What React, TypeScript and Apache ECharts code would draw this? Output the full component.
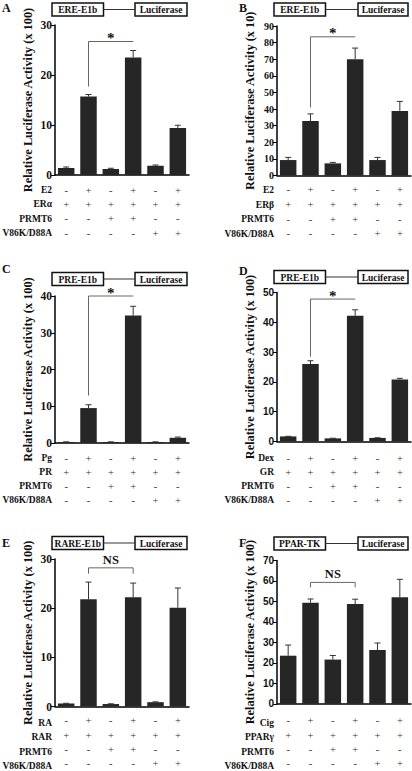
import React, { useEffect, useRef } from "react";
import * as echarts from "echarts";

// ---------- data ----------
const categories = ["1", "2", "3", "4", "5", "6"];

const ligandSigns = ["-", "+", "-", "+", "-", "+"];
const receptorSigns = ["+", "+", "+", "+", "+", "+"];
const prmt6Signs = ["-", "-", "+", "+", "-", "-"];
const mutantSigns = ["-", "-", "-", "-", "+", "+"];

const valuesA = [1.4, 15.7, 1.2, 23.5, 1.85, 9.4];
const errTopA = [1.6, 16.1, 1.35, 24.9, 2.0, 9.95];
const valuesB = [9.3, 32.8, 7.3, 70, 9.3, 38.9];
const errTopB = [10.9, 37.1, 7.9, 76.7, 10.9, 44.6];
const valuesC = [0.28, 9.5, 0.28, 34.7, 0.28, 1.42];
const errTopC = [0.32, 10.4, 0.32, 37.2, 0.32, 1.62];
const valuesD = [1.7, 26.0, 1.05, 42.2, 1.2, 20.8];
const errTopD = [1.75, 27.1, 1.1, 44.2, 1.25, 21.2];
const valuesE = [0.6, 21.8, 0.5, 22.2, 0.88, 20.1];
const errTopE = [0.65, 25.3, 0.55, 25.1, 0.95, 24.1];
const valuesF = [23.5, 49.4, 21.6, 48.7, 26.3, 52.0];
const errTopF = [28.7, 51.2, 23.6, 51.1, 29.7, 60.8];

const yMaxA = 30, yMaxB = 90, yMaxC = 40, yMaxD = 50, yMaxE = 30, yMaxF = 70;

// brackets: [fromIndex, toIndex, leftBottom, top, rightBottom]
const bracketA = [1, 3, 17.7, 26.7, 26.7];
const bracketB = [1, 3, 41, 83.5, 83.5];
const bracketC = [1, 3, 12.9, 40, 40];
const bracketD = [1, 3, 28.5, 47.8, 47.8];
const bracketE = [1, 3, 27.0, 28.2, 27.0];
const bracketF = [1, 3, 56.9, 59.3, 56.9];

const rowLabelsA = ["E2", "ERα", "PRMT6", "V86K/D88A"];
const rowLabelsB = ["E2", "ERβ", "PRMT6", "V86K/D88A"];
const rowLabelsC = ["Pg", "PR", "PRMT6", "V86K/D88A"];
const rowLabelsD = ["Dex", "GR", "PRMT6", "V86K/D88A"];
const rowLabelsE = ["RA", "RAR", "PRMT6", "V86K/D88A"];
const rowLabelsF = ["Cig", "PPARγ", "PRMT6", "V86K/D88A"];

const promoters = ["ERE-E1b", "ERE-E1b", "PRE-E1b", "PRE-E1b", "RARE-E1b", "PPAR-TK"];
const panelLetters = ["A", "B", "C", "D", "E", "F"];
const yTitles = [
  "Relative Luciferase Activity (x 100)",
  "Relative Luciferase Activity (x 10)",
  "Relative Luciferase Activity (x 100)",
  "Relative Luciferase Activity (x 100)",
  "Relative Luciferase Activity (x 100)",
  "Relative Luciferase Activity (x 100)",
];
const bracketLabels = ["*", "*", "*", "*", "NS", "NS"];

// ---------- layout ----------
const SERIF = "'Liberation Serif', 'Times New Roman', serif";
const SANS = "'Liberation Sans', Arial, sans-serif";

const layout = [
  { left: 55, top: 25, height: 150, rowY: 190, lh: 14.3, margin: 8, tickFont: SERIF, tickSize: 11.5, boxY: 3, letterY: 7.5 },
  { left: 277, top: 26, height: 149.5, rowY: 190, lh: 14.6, margin: 7.2, tickFont: SERIF, tickSize: 10, boxY: 3, letterY: 7.5 },
  { left: 55, top: 296, height: 147, rowY: 458, lh: 14, margin: 8, tickFont: SERIF, tickSize: 11.5, boxY: 272.5, letterY: 268.5 },
  { left: 277, top: 292.5, height: 149, rowY: 458, lh: 14, margin: 9.5, tickFont: SANS, tickSize: 10, boxY: 270.5, letterY: 270.5 },
  { left: 55, top: 559, height: 149.5, rowY: 723, lh: 14.3, margin: 7.3, tickFont: SERIF, tickSize: 11.5, boxY: 536.5, letterY: 542.5 },
  { left: 277, top: 560.5, height: 145, rowY: 723, lh: 14.3, margin: 10, tickFont: SANS, tickSize: 10, boxY: 537, letterY: 542.5 },
];

const panelValues = [valuesA, valuesB, valuesC, valuesD, valuesE, valuesF];
const panelErr = [errTopA, errTopB, errTopC, errTopD, errTopE, errTopF];
const panelMax = [yMaxA, yMaxB, yMaxC, yMaxD, yMaxE, yMaxF];
const panelBrackets = [bracketA, bracketB, bracketC, bracketD, bracketE, bracketF];
const panelRows = [rowLabelsA, rowLabelsB, rowLabelsC, rowLabelsD, rowLabelsE, rowLabelsF];

const BAR = "#262626";

function buildOption() {
  const grid: any[] = [];
  const xAxis: any[] = [];
  const yAxis: any[] = [];
  const series: any[] = [];
  const graphic: any[] = [];

  layout.forEach((L, p) => {
    const isLeft = L.left < 200;
    grid.push({ left: L.left, top: L.top, width: 134, height: L.height });
    xAxis.push({
      type: "category",
      gridIndex: p,
      data: categories,
      axisLine: { show: true, lineStyle: { color: "#000", width: 1.5 } },
      axisTick: { show: false },
      axisLabel: {
        margin: L.margin,
        interval: 0,
        fontFamily: SERIF,
        fontSize: 10.5,
        color: "#333",
        lineHeight: L.lh,
        formatter: (_v: string, i: number) =>
          [ligandSigns[i], receptorSigns[i], prmt6Signs[i], mutantSigns[i]].join("\n"),
      },
    });
    yAxis.push({
      type: "value",
      gridIndex: p,
      min: 0,
      max: panelMax[p],
      interval: 10,
      name: yTitles[p],
      nameLocation: "middle",
      nameGap: 21.5,
      nameTextStyle: { fontFamily: SERIF, fontWeight: "bold", fontSize: 12.3, color: "#111" },
      axisLine: { show: true, lineStyle: { color: "#000", width: 1.5 } },
      axisTick: { show: true, inside: false, length: 4, lineStyle: { color: "#000", width: 1 } },
      axisLabel: { margin: 3, fontFamily: L.tickFont, fontWeight: "bold", fontSize: L.tickSize, color: "#111" },
      splitLine: { show: false },
    });
    series.push({
      type: "bar",
      xAxisIndex: p,
      yAxisIndex: p,
      data: panelValues[p],
      barWidth: 16.5,
      itemStyle: { color: BAR },
      silent: true,
    });
    const errData = panelValues[p].map((v, i) => [i, v, panelErr[p][i]]);
    series.push({
      type: "custom",
      xAxisIndex: p,
      yAxisIndex: p,
      data: errData,
      silent: true,
      z: 3,
      renderItem: (_params: any, api: any) => {
        const a = api.coord([api.value(0), api.value(1)]);
        const b = api.coord([api.value(0), api.value(2)]);
        return {
          type: "group",
          children: [
            { type: "line", shape: { x1: a[0], y1: a[1], x2: b[0], y2: b[1] }, style: { stroke: "#333", lineWidth: 1 } },
            { type: "line", shape: { x1: b[0] - 3, y1: b[1], x2: b[0] + 3, y2: b[1] }, style: { stroke: "#333", lineWidth: 1 } },
          ],
        };
      },
    });
    const br = panelBrackets[p];
    const lbl = bracketLabels[p];
    series.push({
      type: "custom",
      xAxisIndex: p,
      yAxisIndex: p,
      data: [br],
      silent: true,
      clip: false,
      z: 4,
      renderItem: (_params: any, api: any) => {
        const lb = api.coord([api.value(0), api.value(2)]);
        const lt = api.coord([api.value(0), api.value(3)]);
        const rt = api.coord([api.value(1), api.value(3)]);
        const rb = api.coord([api.value(1), api.value(4)]);
        const isStar = lbl === "*";
        return {
          type: "group",
          children: [
            {
              type: "polyline",
              shape: { points: [lb, lt, rt, rb] },
              style: { stroke: "#666", lineWidth: 1, fill: null },
            },
            {
              type: "text",
              x: (lt[0] + rt[0]) / 2,
              y: lt[1] + (isStar ? 4 : -1.5),
              style: {
                text: lbl,
                fontFamily: SERIF,
                fontWeight: "bold",
                fontSize: isStar ? 15 : 12.5,
                fill: "#111",
                align: "center",
                verticalAlign: "bottom",
              },
            },
          ],
        };
      },
    });

    // row labels
    const rx = isLeft ? 52 : 274;
    panelRows[p].forEach((t, r) => {
      graphic.push({
        type: "text",
        x: rx,
        y: L.rowY + r * L.lh,
        style: { text: t, fontFamily: SERIF, fontWeight: "bold", fontSize: 9.5, fill: "#111", align: "right", verticalAlign: "middle" },
      });
    });
    // panel letter
    graphic.push({
      type: "text",
      x: isLeft ? 2 : 239,
      y: L.letterY,
      style: { text: panelLetters[p], fontFamily: SERIF, fontWeight: "bold", fontSize: 12, fill: "#111", align: "left", verticalAlign: "middle" },
    });
    // construct diagram
    const b1x = isLeft ? 52 : 274;
    const b2x = isLeft ? 135 : 358;
    const bw1 = 51.5;
    const bw2 = isLeft ? 52 : 50;
    const bh = 13;
    graphic.push({ type: "rect", shape: { x: b1x, y: L.boxY, width: bw1, height: bh }, style: { fill: "#fff", stroke: "#111", lineWidth: 1.5 } });
    graphic.push({ type: "rect", shape: { x: b2x, y: L.boxY, width: bw2, height: bh }, style: { fill: "#fff", stroke: "#111", lineWidth: 1.5 } });
    graphic.push({ type: "line", shape: { x1: b1x + bw1, y1: L.boxY + bh / 2, x2: b2x, y2: L.boxY + bh / 2 }, style: { stroke: "#333", lineWidth: 1 } });
    graphic.push({
      type: "text",
      x: b1x + bw1 / 2,
      y: L.boxY + bh / 2 + 0.5,
      style: { text: promoters[p], fontFamily: SERIF, fontWeight: "bold", fontSize: 9.5, fill: "#111", align: "center", verticalAlign: "middle" },
    });
    graphic.push({
      type: "text",
      x: b2x + bw2 / 2,
      y: L.boxY + bh / 2 + 0.5,
      style: { text: "Luciferase", fontFamily: SERIF, fontWeight: "bold", fontSize: 9.5, fill: "#111", align: "center", verticalAlign: "middle" },
    });
  });

  return { animation: false, backgroundColor: "#fff", grid, xAxis, yAxis, series, graphic };
}

export default function App() {
  const ref = useRef<HTMLDivElement>(null);
  useEffect(() => {
    if (!ref.current) return;
    const chart = echarts.init(ref.current, null, { renderer: "svg" });
    chart.setOption(buildOption() as any);
    return () => chart.dispose();
  }, []);
  return (
    <div
      ref={ref}
      style={{ position: "fixed", left: 0, top: 0, width: 412, height: 771, background: "#fff" }}
    />
  );
}
